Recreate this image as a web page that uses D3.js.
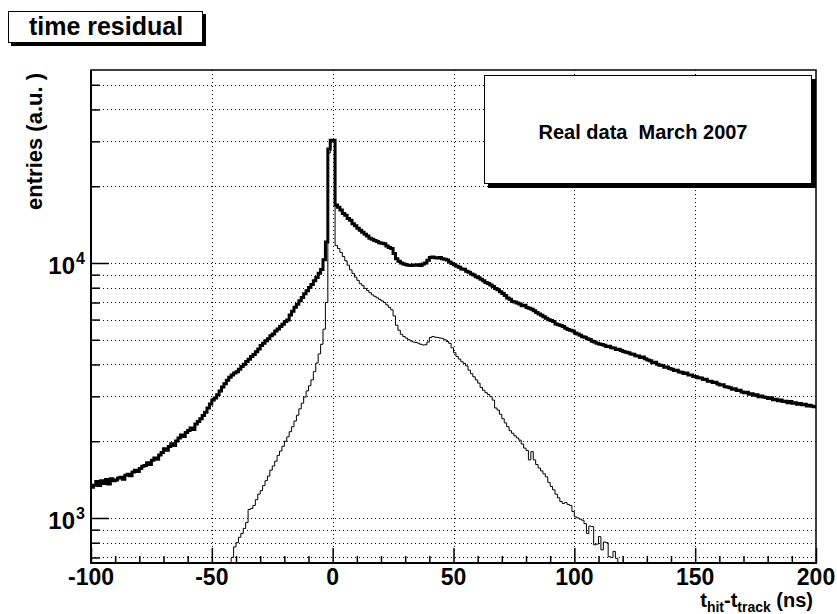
<!DOCTYPE html>
<html><head><meta charset="utf-8">
<script src="https://cdn.jsdelivr.net/npm/d3@7"></script>
<style>
html,body{margin:0;padding:0;background:#fff;}
text{font-family:"Liberation Sans",Arial,Helvetica,sans-serif;font-weight:bold;fill:#000;white-space:pre;}
</style></head>
<body>
<svg id="c" width="837" height="614"></svg>
<script>
// ---------------- data ----------------
const titleText = "time residual";
const legendText = "Real data  March 2007";
const xTickValues = [-100, -50, 0, 50, 100, 150, 200];
const yMajorTicks = [1000, 10000];
const yMajorLabels = [["10","3"], ["10","4"]];
const xDomain = [-100, 200];
const yDomain = [666, 57130];
const binWidth = 1;
// all hits, bins of 1 ns starting at -100
const allStart = -100;
const allHits = [
1320,1345,1390,1340,1400,1365,1415,1360,1425,1400,
1410,1435,1445,1420,1470,1485,1465,1515,1540,1520,
1565,1595,1605,1645,1620,1685,1720,1700,1765,1805,
1870,1845,1905,1955,1925,2005,2060,2115,2085,2165,
2205,2255,2225,2335,2390,2450,2525,2600,2700,2800,
2900,2955,3045,3150,3260,3360,3470,3560,3640,3700,
3745,3835,3930,4005,4110,4195,4300,4375,4490,4600,
4750,4845,4960,5050,5190,5270,5410,5510,5640,5750,
5890,5980,6250,6470,6710,6890,7110,7320,7570,7790,
8020,8230,8510,8770,9110,9440,10300,12100,28000,30300,
30300,16900,16550,16150,15650,15400,14950,14700,14250,14000,
13700,13450,13200,12950,12750,12500,12400,12250,12150,12000,
11950,11900,11650,11500,11400,10900,10400,10150,10000,9900,
9850,9800,9780,9830,9790,9850,9770,9900,10000,10250,
10500,10550,10480,10450,10520,10400,10350,10280,10100,9950,
9850,9700,9620,9480,9450,9280,9200,9060,8980,8840,
8760,8640,8510,8390,8310,8190,8090,7940,7860,7710,
7600,7460,7290,7210,7070,7030,6970,6910,6790,6830,
6690,6650,6590,6490,6390,6310,6240,6160,6070,5990,
5950,5890,5770,5730,5690,5630,5550,5490,5450,5410,
5320,5270,5210,5140,5110,5040,5010,4930,4900,4840,
4810,4790,4760,4700,4710,4650,4640,4580,4590,4540,
4500,4470,4450,4400,4390,4330,4320,4260,4280,4210,
4160,4140,4060,4080,4010,3970,3960,3900,3910,3860,
3830,3790,3800,3740,3730,3690,3700,3640,3640,3590,
3580,3550,3540,3490,3500,3440,3440,3400,3410,3350,
3320,3330,3270,3260,3240,3200,3210,3160,3170,3120,
3100,3110,3060,3070,3030,3040,2990,3010,2980,2970,
2940,2960,2910,2920,2880,2900,2860,2870,2830,2860,
2820,2830,2790,2810,2780,2790,2750,2770,2740,2730
];
// selected hits, bins of 1 ns starting at -45
const selStart = -45;
const selHits = [
560,600,640,700,770,800,840,870,910,960,
1080,1090,1120,1180,1240,1280,1340,1400,1460,1540,
1600,1670,1760,1830,1910,2000,2080,2180,2280,2400,
2530,2680,2820,2980,3150,3300,3480,3750,4050,4400,
4800,5500,7000,27000,29800,
29800,11700,11400,11000,10600,10200,9800,9400,9100,8800,
8550,8300,8150,7950,7800,7650,7500,7400,7300,7200,
7100,7000,6850,6700,6550,6200,5700,5450,5250,5150,
5080,5000,4950,4900,4880,4850,4800,4770,4780,4900,
5100,5150,5120,5100,5080,5060,5000,4920,4840,4650,
4450,4300,4200,4100,4040,3950,3800,3680,3580,3480,
3380,3250,3170,3100,3050,2990,2900,2700,2650,2550,
2450,2360,2280,2200,2150,2100,2060,2020,1950,1880,
1840,1690,1820,1690,1620,1570,1530,1490,1450,1380,
1330,1290,1240,1200,1160,1140,1150,1130,1120,1060,
1010,1000,990,980,950,870,930,925,785,790,
845,750,805,800,705,700,740,695,600,560
];

// ---------------- layout ----------------
const L = 91, R = 816, T = 70, B = 563;
const svg = d3.select("#c");
const x = d3.scaleLinear().domain(xDomain).range([L, R]);
const y = d3.scaleLog().domain(yDomain).range([B, T]);

// grid
const grid = svg.append("g").attr("stroke", "#000").attr("stroke-width", 1)
  .attr("stroke-dasharray", "1,3").attr("fill", "none");
const yGridVals = y.ticks();
grid.selectAll("line.h").data(yGridVals).join("line")
  .attr("x1", L).attr("x2", R).attr("y1", d => Math.round(y(d)) + 0.5).attr("y2", d => Math.round(y(d)) + 0.5);
grid.selectAll("line.v").data(xTickValues.filter(v => v > xDomain[0] && v < xDomain[1])).join("line")
  .attr("y1", T).attr("y2", B).attr("x1", d => Math.round(x(d)) + 0.5).attr("x2", d => Math.round(x(d)) + 0.5);

// histograms
svg.append("defs").append("clipPath").attr("id", "clip")
  .append("rect").attr("x", L).attr("y", T).attr("width", R - L).attr("height", B - T);
function stepPoints(start, vals) {
  const pts = vals.map((v, i) => [start + i * binWidth, v]);
  pts.push([start + vals.length * binWidth, vals[vals.length - 1]]);
  return pts;
}
const line = d3.line().x(d => x(d[0])).y(d => y(d[1])).curve(d3.curveStepAfter);
const hg = svg.append("g").attr("clip-path", "url(#clip)").attr("fill", "none").attr("stroke", "#000");
hg.append("path").attr("d", line(stepPoints(selStart, selHits))).attr("stroke-width", 1);
hg.append("path").attr("d", line(stepPoints(allStart, allHits))).attr("stroke-width", 3);

// axes (ticks pointing inward)
const xMinor = d3.range(-90, 200, 10).filter(v => v % 50 !== 0);
svg.append("g").attr("transform", `translate(0,${B})`)
  .call(d3.axisBottom(x).tickValues(xMinor).tickSize(-7).tickFormat(""))
  .call(g => g.select(".domain").remove());
svg.append("g").attr("transform", `translate(0,${B})`)
  .call(d3.axisBottom(x).tickValues(xTickValues).tickSize(-15).tickFormat(""))
  .call(g => g.select(".domain").remove());
svg.append("g").attr("transform", `translate(${L},0)`)
  .call(d3.axisLeft(y).tickValues(yGridVals.filter(v => !yMajorTicks.includes(v))).tickSize(-9).tickFormat(""))
  .call(g => g.select(".domain").remove());
svg.append("g").attr("transform", `translate(${L},0)`)
  .call(d3.axisLeft(y).tickValues(yMajorTicks).tickSize(-18).tickFormat(""))
  .call(g => g.select(".domain").remove());
svg.selectAll(".tick line").attr("stroke", "#000").attr("stroke-width", 1.5);

// frame
svg.append("rect").attr("x", L).attr("y", T).attr("width", R - L).attr("height", B - T)
  .attr("fill", "none").attr("stroke", "#000").attr("stroke-width", 1.5);
svg.append("line").attr("x1", L).attr("x2", L).attr("y1", T).attr("y2", B + 1).attr("stroke", "#000").attr("stroke-width", 2);
svg.append("line").attr("x1", L - 1).attr("x2", R + 1).attr("y1", B).attr("y2", B).attr("stroke", "#000").attr("stroke-width", 2);

// x tick labels
svg.append("g").selectAll("text").data(xTickValues).join("text")
  .attr("x", d => x(d)).attr("y", 585).attr("text-anchor", "middle")
  .attr("font-size", 23).text(d => d);

// y tick labels
const yl = svg.append("g").selectAll("text").data(yMajorTicks).join("text")
  .attr("x", 75).attr("y", d => y(d) + 11).attr("text-anchor", "end").attr("font-size", 24);
yl.append("tspan").text((d, i) => yMajorLabels[i][0]);
svg.append("g").selectAll("text").data(yMajorTicks).join("text")
  .attr("x", 76).attr("y", d => y(d) + 1).attr("font-size", 16)
  .text((d, i) => yMajorLabels[i][1]);

// axis titles
svg.append("text").attr("transform", `translate(42,${T + 3}) rotate(-90)`)
  .attr("text-anchor", "end").attr("font-size", 22).text("entries (a.u. )");
const xt = svg.append("text").attr("x", 813).attr("y", 607).attr("text-anchor", "end").attr("font-size", 20);
xt.append("tspan").text("t");
xt.append("tspan").attr("font-size", 14).attr("dy", 5).text("hit");
xt.append("tspan").attr("dy", -5).text("-t");
xt.append("tspan").attr("font-size", 14).attr("dy", 5).text("track");
xt.append("tspan").attr("dy", -5).text(" (ns)");

// title box
svg.append("rect").attr("x", 11).attr("y", 14).attr("width", 195).attr("height", 32).attr("fill", "#000");
svg.append("rect").attr("x", 8.5).attr("y", 11.5).attr("width", 194).attr("height", 31).attr("fill", "#fff").attr("stroke", "#000").attr("stroke-width", 1);
svg.append("text").attr("x", 106).attr("y", 35).attr("text-anchor", "middle").attr("font-size", 25).text(titleText);

// legend box
svg.append("rect").attr("x", 488).attr("y", 79).attr("width", 328).attr("height", 109).attr("fill", "#000");
svg.append("rect").attr("x", 484.5).attr("y", 75.5).attr("width", 327).attr("height", 108).attr("fill", "#fff").attr("stroke", "#000").attr("stroke-width", 1);
svg.append("text").attr("x", 643).attr("y", 139).attr("text-anchor", "middle").attr("font-size", 20)
  .attr("xml:space", "preserve").text(legendText);
</script>
</body></html>
